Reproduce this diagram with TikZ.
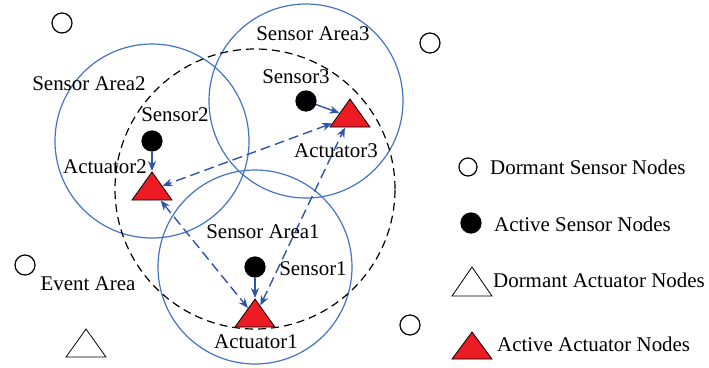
\documentclass[tikz,border=0pt]{standalone}
\usepackage{fontspec}
\setmainfont{Liberation Serif}
\usetikzlibrary{shapes.geometric,arrows.meta}
\definecolor{areablue}{RGB}{68,114,196}
\definecolor{linkblue}{RGB}{47,85,170}
\definecolor{actred}{RGB}{237,28,36}

\begin{document}
\begin{tikzpicture}[x=1bp,y=-1bp,font=\fontsize{21}{25}\selectfont,
    sensor/.style={circle,draw,line width=1.2bp,minimum size=20bp,inner sep=0pt},
    active/.style={sensor,fill=black},
    actuator/.style={isosceles triangle,isosceles triangle stretches,shape border rotate=90,
      minimum width=40bp,minimum height=28bp,inner sep=0pt,anchor=apex,draw,line width=0.8bp},
    fired/.style={actuator,fill=actred},
    area/.style={areablue,line width=1.2bp},
    link/.style={linkblue,line width=1.4bp,-{Stealth[length=10bp,width=8bp]}},
    relay/.style={link,{Stealth[length=10bp,width=8bp]}-{Stealth[length=10bp,width=8bp]},dash pattern=on 10bp off 5bp},
    lbl/.style={anchor=base,inner sep=0pt}]
       \useasboundingbox (0,0) rectangle (709,367);

       \node(D1)[sensor] at (62,23) {};
       \node(D2)[sensor] at (430,43) {};
       \node(D3)[sensor] at (25,265) {};
       \node(D4)[sensor] at (410,325) {};
       \node(DA)[actuator] at (86,328) {};

       \node(S1)[active] at (255,267) {};
       \node(S2)[active] at (152,141) {};
       \node(S3)[active] at (306,101) {};

       \draw[area] (S1) circle[radius=97bp];
       \draw[area] (S2) circle[radius=97bp];
       \draw[area] (S3) circle[radius=97bp];
       \draw[line width=1.2bp,dash pattern=on 8bp off 5bp] (255,189) circle[radius=140bp];

       \node(A1)[fired] at (255,298) {};
       \node(A2)[fired] at (152,171) {};
       \node(A3)[fired] at (350,98) {};

       \draw[link] (S1) -- (A1);
       \draw[link] (S2) -- (A2);
       \draw[link] (S3) -- (A3);
       \draw[relay] (A3) -- (A2);
       \draw[relay] (A2) -- (A1);
       \draw[relay] (A1) -- (A3);

       \node(LA3)[lbl] at (313,40) {Sensor Area3};
       \node(LA2)[lbl] at (89,90) {Sensor Area2};
       \node(LA1)[lbl] at (263,238) {Sensor Area1};
       \node(LS3)[lbl] at (296,83) {Sensor3};
       \node(LS2)[lbl] at (175,121) {Sensor2};
       \node(LS1)[lbl] at (313,275) {Sensor1};
       \node(LC3)[lbl] at (336,157) {Actuator3};
       \node(LC2)[lbl] at (105,173) {Actuator2};
       \node(LC1)[lbl] at (256,348) {Actuator1};
       \node(LEv)[lbl] at (88,290) {Event Area};

       \node(K1)[sensor,minimum size=18bp] at (468,167) {};
       \node(K2)[active] at (471,223) {};
       \node(K3)[actuator,minimum height=29bp] at (472,266) {};
       \node(K4)[fired,minimum height=27bp] at (472,331) {};
       \node(NK1)[anchor=base west,inner sep=0pt] at (490,174) {Dormant Sensor Nodes};
       \node(NK2)[anchor=base west,inner sep=0pt] at (494,231) {Active Sensor Nodes};
       \node(NK3)[anchor=base west,inner sep=0pt] at (493,287) {Dormant Actuator Nodes};
       \node(NK4)[anchor=base west,inner sep=0pt] at (497,351) {Active Actuator Nodes};
\end{tikzpicture}
\end{document}
